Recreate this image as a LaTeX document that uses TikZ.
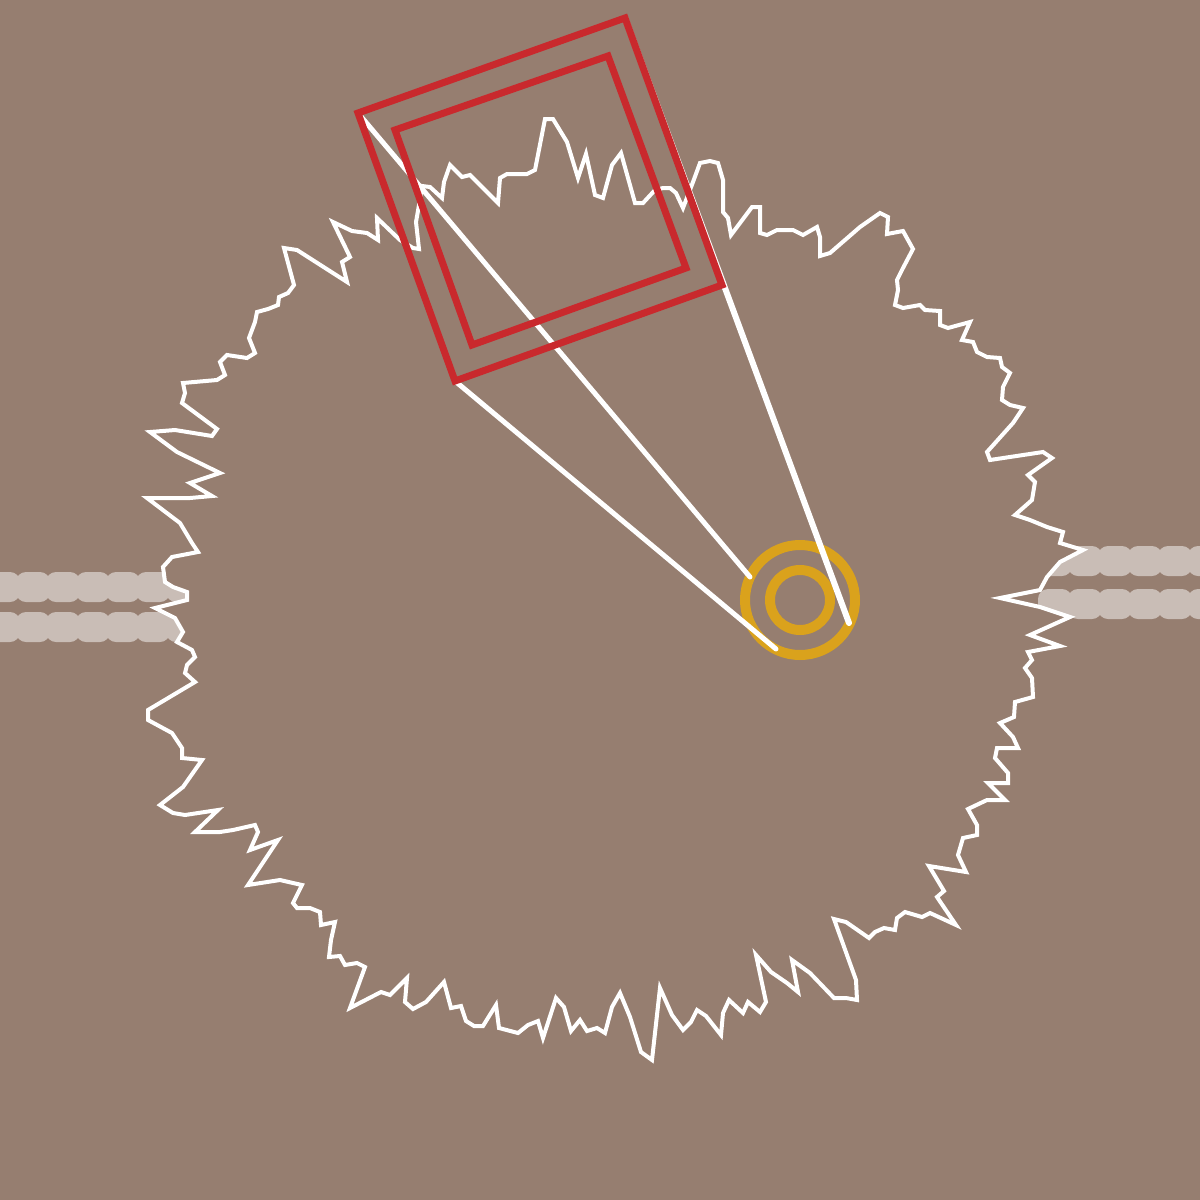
\documentclass[tikz,border=0pt]{standalone}
\definecolor{soilbrown}{HTML}{967E70}
\definecolor{beadgrey}{HTML}{C9BDB6}
\definecolor{lensgold}{HTML}{DAA21C}
\definecolor{framered}{HTML}{C9292D}
\begin{document}
\begin{tikzpicture}[x=1pt, y=-1pt,
  rim/.style={draw=white, fill=soilbrown, line width=4pt, line join=miter},
  ray/.style={white, line width=5pt, line cap=round},
  framebox/.style={framered, line width=7pt, line join=miter},
  ring/.style={lensgold, line width=10pt},
  beadlink/.style={fill=beadgrey, rounded corners=10pt}]
  \fill[soilbrown] (0,0) rectangle (1200,1200);
  \useasboundingbox (0,0) rectangle (1200,1200);
  % bead chains left and right
  \foreach \x in {-14,16,...,166} {
    \fill[beadlink] (\x,572) rectangle ++(34,30);
    \fill[beadlink] (\x,612) rectangle ++(34,30);
  }
  \foreach \x in {1038,1068,...,1218} {
    \fill[beadlink] (\x,546) rectangle ++(34,30);
    \fill[beadlink] (\x,589) rectangle ++(34,30);
  }
  % ragged rim
  \draw[rim] plot coordinates {(147,498) (190,498) (212,496) (190,483) (220,473) (177,452) (150,432) (175,430) (212,436) (217,429) (182,403) (185,393) (183,383) (217,380) (225,375) (220,362) (227,355) (247,358) (255,353) (249,338) (255,322) (257,312) (268,309) (278,305) (279,297) (288,293) (294,285) (284,248) (297,250) (347,282) (342,262) (350,257) (333,222) (352,231) (367,233) (378,240) (377,218) (400,240) (413,248) (419,249) (416,222) (419,205) (422,186) (430,187) (442,198) (444,182) (450,165) (462,177) (470,175) (498,203) (500,178) (507,174) (527,174) (535,170) (545,119) (553,119) (567,142) (578,178) (586,154) (595,195) (603,198) (612,165) (621,153) (635,203) (643,203) (655,190) (663,188) (670,188) (676,193) (683,208) (693,182) (700,163) (710,161) (718,163) (723,180) (723,212) (728,218) (731,235) (752,207) (760,207) (760,233) (767,235) (777,230) (793,230) (803,235) (817,227) (820,237) (820,256) (830,253) (860,227) (880,213) (888,217) (887,234) (903,231) (908,240) (913,249) (903,268) (897,280) (898,290) (895,305) (903,308) (920,305) (925,310) (940,311) (940,325) (948,328) (970,322) (962,340) (973,342) (977,352) (987,357) (1000,358) (1002,367) (1010,373) (1003,387) (1002,400) (1010,405) (1023,408) (1013,423) (987,452) (990,460) (1043,452) (1052,458) (1028,475) (1035,482) (1032,500) (1015,515) (1030,520) (1047,527) (1063,532) (1060,543) (1083,550) (1060,562) (1047,577) (1040,590) (1000,598) (1040,607) (1070,617) (1030,635) (1060,646) (1028,652) (1032,660) (1025,668) (1032,678) (1033,697) (1015,702) (1014,717) (1000,723) (1013,737) (1018,748) (997,748) (995,758) (1008,773) (1008,783) (988,783) (1005,800) (987,800) (968,809) (977,825) (977,835) (963,838) (958,855) (966,872) (929,866) (944,891) (937,897) (956,925) (930,913) (922,917) (905,912) (897,918) (895,930) (884,928) (875,932) (869,938) (846,922) (834,919) (856,980) (857,1000) (846,998) (834,998) (810,973) (792,960) (798,992) (787,983) (771,972) (756,955) (766,1002) (760,1012) (748,1002) (743,1013) (729,1000) (723,1013) (721,1035) (706,1016) (697,1010) (691,1022) (683,1030) (672,1015) (660,988) (652,1060) (641,1052) (630,1017) (620,993) (612,1007) (605,1033) (597,1028) (587,1031) (580,1020) (571,1031) (564,1007) (556,998) (543,1038) (538,1021) (528,1025) (518,1033) (499,1028) (496,1005) (483,1026) (474,1026) (466,1021) (461,1006) (451,1008) (444,982) (426,1002) (413,1009) (405,1002) (407,978) (390,995) (381,992) (350,1008) (365,967) (357,963) (345,965) (340,956) (329,957) (331,940) (335,922) (321,925) (320,912) (310,908) (297,908) (293,903) (302,885) (293,883) (280,880) (248,885) (278,840) (250,850) (258,832) (255,825) (233,830) (220,832) (195,832) (218,810) (185,815) (173,813) (160,805) (183,787) (202,760) (182,758) (182,748) (172,733) (148,720) (148,710) (195,682) (185,673) (187,665) (195,657) (192,650) (177,642) (183,632) (175,618) (155,608) (187,600) (187,592) (173,587) (165,582) (163,567) (172,557) (198,552) (192,543) (180,523)} -- cycle;
  % eye
  \coordinate (eye) at (800,600);
  \draw[ring] (eye) circle (55);
  \draw[ring] (eye) circle (30);
  % frame corners and ray ends
  \coordinate (otl) at (358,113);
  \coordinate (otr) at (625,18);
  \coordinate (obr) at (722,285);
  \coordinate (obl) at (455,381);
  \coordinate (itl) at (395,130);
  \coordinate (itr) at (608,56);
  \coordinate (ibr) at (686,268);
  \coordinate (ibl) at (472,345);
  \coordinate (endtl) at (750,577);
  \coordinate (endbl) at (776,649);
  \coordinate (endtr) at (849,623);
  \draw[ray] (otl) -- (endtl);
  \draw[ray] (obl) -- (endbl);
  \draw[ray, line width=6pt] (otr) -- (endtr);
  % view frames
  \draw[framebox] (otl) -- (otr) -- (obr) -- (obl) -- cycle;
  \draw[framebox] (itl) -- (itr) -- (ibr) -- (ibl) -- cycle;
\end{tikzpicture}
\end{document}
